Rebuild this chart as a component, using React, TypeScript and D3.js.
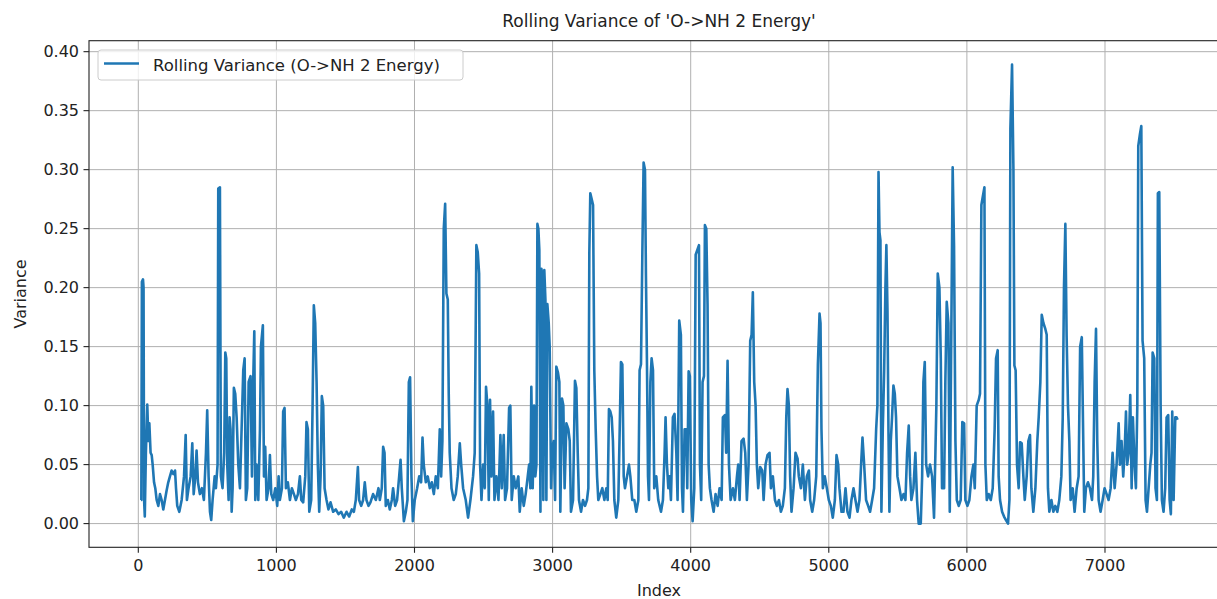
import React from 'react';
import * as d3 from 'd3';

const TITLE = "Rolling Variance of 'O->NH 2 Energy'";
const X_LABEL = 'Index';
const Y_LABEL = 'Variance';
const LEGEND_LABEL = 'Rolling Variance (O->NH 2 Energy)';
const X_TICKS = [0, 1000, 2000, 3000, 4000, 5000, 6000, 7000];
const Y_TICKS = [0, 0.05, 0.1, 0.15, 0.2, 0.25, 0.3, 0.35, 0.4];

// [index, rolling variance]
const SAMPLES: [number, number][] = [
  [19,0.020],[22,0.020],[26,0.205],[34,0.207],[38,0.200],[42,0.020],[47,0.006],[55,0.060],[65,0.101],[73,0.070],[80,0.085],[89,0.060],[97,0.058],[104,0.050],[114,0.035],[123,0.030],[133,0.020],[145,0.015],[157,0.025],[169,0.020],[181,0.012],[193,0.020],[205,0.028],[217,0.035],[229,0.040],[241,0.045],[253,0.042],[266,0.045],[273,0.030],[282,0.015],[297,0.010],[314,0.020],[331,0.040],[343,0.075],[352,0.020],[364,0.030],[379,0.040],[391,0.068],[401,0.025],[413,0.040],[422,0.062],[432,0.035],[446,0.025],[461,0.030],[475,0.020],[490,0.060],[499,0.096],[509,0.040],[519,0.010],[528,0.003],[538,0.020],[553,0.040],[562,0.030],[574,0.050],[579,0.284],[591,0.285],[598,0.040],[610,0.030],[622,0.060],[630,0.145],[637,0.140],[644,0.050],[654,0.020],[661,0.090],[668,0.080],[676,0.010],[683,0.030],[692,0.115],[702,0.110],[712,0.090],[724,0.050],
  [736,0.030],[748,0.080],[760,0.130],[770,0.140],[779,0.020],[789,0.030],[799,0.120],[813,0.125],[823,0.040],[832,0.120],[840,0.163],[847,0.020],[856,0.050],[869,0.020],[881,0.080],[888,0.150],[902,0.168],[910,0.040],[919,0.065],[929,0.020],[943,0.030],[953,0.058],[963,0.025],[977,0.020],[992,0.030],[1006,0.015],[1016,0.040],[1025,0.020],[1040,0.030],[1049,0.095],[1059,0.098],[1069,0.030],[1083,0.035],[1098,0.020],[1112,0.030],[1127,0.025],[1141,0.020],[1156,0.025],[1170,0.040],[1180,0.020],[1194,0.018],[1209,0.040],[1218,0.086],[1228,0.080],[1238,0.010],[1252,0.020],[1262,0.100],[1271,0.185],[1281,0.170],[1291,0.120],[1300,0.050],[1310,0.010],[1320,0.040],[1329,0.108],[1339,0.100],[1349,0.030],[1363,0.020],[1377,0.012],[1392,0.018],[1411,0.010],[1430,0.012],[1450,0.008],[1469,0.010],[1488,0.005],[1508,0.010],[1527,0.006],[1546,0.012],[1561,0.010],[1575,0.020],[1590,0.048],[1599,0.020],[1614,0.015],[1628,0.020],[1640,0.035],[1652,0.020],[1667,0.015],[1681,0.018],[1700,0.025],[1720,0.020],[1739,0.030],
  [1749,0.020],[1763,0.030],[1773,0.065],[1783,0.060],[1792,0.015],[1807,0.020],[1821,0.012],[1836,0.020],[1845,0.030],[1860,0.015],[1874,0.020],[1889,0.040],[1899,0.054],[1908,0.030],[1923,0.002],[1937,0.010],[1949,0.020],[1959,0.120],[1968,0.124],[1978,0.040],[1988,0.002],[2002,0.020],[2019,0.030],[2034,0.040],[2048,0.035],[2058,0.073],[2067,0.050],[2082,0.035],[2096,0.040],[2111,0.030],[2125,0.035],[2140,0.025],[2154,0.040],[2169,0.030],[2183,0.080],[2193,0.040],[2202,0.070],[2212,0.250],[2222,0.271],[2231,0.195],[2241,0.190],[2248,0.110],[2255,0.060],[2268,0.030],[2284,0.020],[2299,0.025],[2313,0.040],[2328,0.068],[2338,0.050],[2352,0.030],[2371,0.020],[2388,0.005],[2405,0.020],[2424,0.040],[2436,0.060],[2448,0.236],[2458,0.230],[2468,0.212],[2475,0.050],[2485,0.020],[2497,0.050],[2509,0.030],[2518,0.116],[2528,0.100],[2538,0.020],[2547,0.105],[2557,0.040],[2569,0.095],[2579,0.020],[2593,0.040],[2608,0.020],[2622,0.075],[2632,0.030],[2646,0.075],[2656,0.020],[2670,0.030],[2685,0.098],[2694,0.100],[2704,0.020],[2719,0.040],[2733,0.030],[2752,0.040],
  [2762,0.010],[2776,0.030],[2791,0.015],[2805,0.025],[2820,0.040],[2830,0.050],[2839,0.030],[2846,0.116],[2856,0.030],[2866,0.100],[2875,0.040],[2883,0.050],[2890,0.254],[2897,0.250],[2904,0.232],[2912,0.010],[2919,0.216],[2926,0.210],[2933,0.020],[2940,0.215],[2948,0.190],[2955,0.020],[2962,0.186],[2972,0.170],[2979,0.150],[2989,0.030],[2998,0.065],[3008,0.070],[3018,0.020],[3027,0.133],[3039,0.128],[3049,0.120],[3056,0.010],[3068,0.106],[3078,0.100],[3087,0.030],[3100,0.085],[3114,0.080],[3124,0.070],[3133,0.010],[3148,0.020],[3162,0.121],[3172,0.115],[3182,0.060],[3191,0.020],[3206,0.010],[3220,0.020],[3235,0.015],[3249,0.020],[3259,0.030],[3266,0.230],[3273,0.280],[3283,0.275],[3293,0.270],[3302,0.130],[3312,0.080],[3322,0.040],[3331,0.020],[3346,0.025],[3360,0.030],[3375,0.020],[3389,0.030],[3399,0.020],[3408,0.097],[3418,0.095],[3428,0.090],[3437,0.070],[3447,0.020],[3461,0.005],[3476,0.020],[3486,0.080],[3495,0.137],[3505,0.135],[3515,0.040],[3524,0.030],[3539,0.040],[3553,0.050],[3563,0.040],[3577,0.020],[3592,0.020],[3606,0.010],[3621,0.020],[3630,0.130],[3640,0.135],[3650,0.230],[3659,0.306],[3669,0.300],[3676,0.210],[3683,0.140],[3691,0.040],[3698,0.020],[3708,0.120],[3717,0.140],[3727,0.130],[3736,0.030],[3751,0.040],[3765,0.020],
  [3785,0.010],[3799,0.020],[3811,0.060],[3818,0.090],[3828,0.050],[3838,0.030],[3847,0.040],[3857,0.020],[3871,0.090],[3883,0.093],[3896,0.060],[3905,0.020],[3917,0.172],[3929,0.160],[3937,0.030],[3944,0.010],[3956,0.080],[3968,0.080],[3975,0.030],[3985,0.129],[3994,0.125],[4004,0.020],[4014,0.002],[4026,0.030],[4036,0.228],[4048,0.232],[4060,0.236],[4067,0.050],[4076,0.020],[4086,0.120],[4096,0.125],[4103,0.253],[4113,0.250],[4122,0.186],[4130,0.050],[4139,0.030],[4151,0.020],[4166,0.010],[4180,0.025],[4195,0.015],[4209,0.030],[4224,0.020],[4233,0.090],[4248,0.092],[4257,0.060],[4267,0.138],[4277,0.050],[4289,0.020],[4306,0.030],[4320,0.020],[4335,0.040],[4344,0.050],[4354,0.020],[4368,0.070],[4383,0.072],[4395,0.060],[4407,0.020],[4419,0.050],[4431,0.155],[4441,0.160],[4450,0.196],[4460,0.120],[4470,0.100],[4479,0.050],[4489,0.030],[4503,0.048],[4518,0.045],[4528,0.020],[4542,0.050],[4556,0.058],[4571,0.060],[4581,0.030],[4595,0.040],[4610,0.020],[4624,0.015],[4639,0.020],[4653,0.010],[4667,0.015],[4682,0.030],[4692,0.090],[4701,0.114],[4711,0.100],[4720,0.040],[4730,0.010],[4745,0.030],[4759,0.060],[4774,0.055],
  [4783,0.040],[4798,0.030],[4812,0.050],[4827,0.020],[4841,0.040],[4856,0.045],[4865,0.020],[4880,0.010],[4894,0.020],[4909,0.040],[4921,0.135],[4933,0.178],[4940,0.170],[4947,0.080],[4957,0.030],[4971,0.040],[4986,0.030],[5000,0.020],[5015,0.015],[5029,0.005],[5044,0.020],[5056,0.058],[5068,0.050],[5077,0.030],[5092,0.010],[5106,0.010],[5121,0.030],[5135,0.010],[5150,0.005],[5164,0.020],[5179,0.030],[5193,0.020],[5208,0.010],[5222,0.020],[5234,0.050],[5244,0.073],[5256,0.050],[5270,0.020],[5285,0.015],[5299,0.010],[5314,0.020],[5328,0.030],[5343,0.080],[5352,0.100],[5360,0.298],[5367,0.247],[5374,0.240],[5381,0.010],[5391,0.080],[5401,0.130],[5410,0.200],[5417,0.236],[5425,0.180],[5432,0.080],[5439,0.010],[5449,0.070],[5458,0.090],[5468,0.117],[5478,0.110],[5487,0.090],[5497,0.040],[5512,0.030],[5526,0.020],[5541,0.025],[5555,0.020],[5567,0.060],[5579,0.083],[5589,0.040],[5598,0.020],[5613,0.030],[5627,0.060],[5639,0.020],[5651,0.000],[5666,0.000],[5676,0.040],[5685,0.120],[5695,0.137],[5705,0.050],[5719,0.040],[5733,0.050],[5748,0.040],[5762,0.005],[5772,0.060],[5779,0.100],[5789,0.212],
  [5801,0.200],[5811,0.140],[5820,0.030],[5835,0.030],[5844,0.120],[5854,0.188],[5866,0.170],[5876,0.010],[5885,0.130],[5897,0.302],[5907,0.235],[5917,0.070],[5927,0.020],[5941,0.015],[5955,0.020],[5967,0.086],[5980,0.085],[5989,0.020],[6004,0.015],[6018,0.020],[6033,0.040],[6047,0.050],[6057,0.030],[6071,0.100],[6086,0.105],[6095,0.110],[6105,0.270],[6115,0.277],[6127,0.285],[6134,0.050],[6144,0.020],[6158,0.025],[6173,0.020],[6187,0.030],[6201,0.080],[6211,0.140],[6223,0.147],[6230,0.040],[6240,0.020],[6255,0.010],[6269,0.006],[6283,0.003],[6298,0.000],[6308,0.020],[6315,0.335],[6327,0.389],[6337,0.300],[6344,0.134],[6353,0.130],[6363,0.050],[6375,0.030],[6385,0.069],[6397,0.068],[6409,0.040],[6419,0.020],[6433,0.040],[6445,0.070],[6457,0.075],[6467,0.030],[6481,0.010],[6496,0.030],[6510,0.070],[6520,0.090],[6532,0.120],[6542,0.177],[6554,0.170],[6568,0.165],[6578,0.160],[6587,0.030],[6597,0.010],[6612,0.020],[6626,0.010],[6640,0.015],[6655,0.010],[6669,0.020],[6684,0.040],[6694,0.090],[6703,0.200],[6713,0.254],[6722,0.160],[6732,0.100],[6742,0.070],[6751,0.020],[6766,0.030],[6780,0.010],[6795,0.030],[6809,0.040],
  [6820,0.150],[6832,0.158],[6850,0.010],[6862,0.030],[6877,0.035],[6891,0.030],[6906,0.020],[6915,0.040],[6925,0.120],[6935,0.165],[6944,0.070],[6954,0.020],[6968,0.010],[6983,0.020],[6997,0.030],[7012,0.025],[7026,0.020],[7041,0.030],[7055,0.060],[7070,0.030],[7084,0.050],[7099,0.085],[7108,0.050],[7120,0.070],[7132,0.040],[7142,0.060],[7152,0.095],[7161,0.050],[7171,0.060],[7183,0.109],[7193,0.030],[7202,0.090],[7214,0.050],[7224,0.030],[7234,0.100],[7241,0.320],[7253,0.330],[7263,0.337],[7272,0.155],[7284,0.140],[7294,0.020],[7304,0.010],[7316,0.030],[7328,0.050],[7337,0.060],[7345,0.145],[7357,0.140],[7366,0.030],[7376,0.020],[7383,0.280],[7393,0.281],[7403,0.100],[7412,0.020],[7424,0.010],[7436,0.030],[7446,0.090],[7458,0.092],[7468,0.020],[7477,0.008],[7487,0.095],[7497,0.020],[7509,0.090],[7518,0.090],[7526,0.088],
];

const FONT = "'DejaVu Sans', sans-serif";

export default function App() {
  const W = 1217, H = 599;
  const left = 89, right = 1229, top = 40.7, bottom = 547.3;
  const x = d3.scaleLinear().domain([-357, 7898]).range([left, right]);
  const y = d3.scaleLinear().domain([-0.0201, 0.4093]).range([bottom, top]);
  const line = d3.line<[number, number]>().x(d => x(d[0])).y(d => y(d[1]));
  const fmt = d3.format('.2f');
  const cx = (left + right) / 2;
  const cy = (top + bottom) / 2;

  return (
    <svg width={W} height={H} style={{ position: 'absolute', left: 0, top: 0, background: '#fff' }}
      fontFamily={FONT}>
      <rect x={0} y={0} width={W} height={H} fill="#fff" />
      <defs>
        <clipPath id="plot"><rect x={left} y={top} width={right - left} height={bottom - top} /></clipPath>
      </defs>
      <g stroke="#b0b0b0" strokeWidth={1}>
        {X_TICKS.map(t => <line key={'gx' + t} x1={x(t)} x2={x(t)} y1={top} y2={bottom} />)}
        {Y_TICKS.map(t => <line key={'gy' + t} x1={left} x2={right} y1={y(t)} y2={y(t)} />)}
      </g>
      <path d={line(SAMPLES) || ''} fill="none" stroke="#1f77b4" strokeWidth={2.6}
        strokeLinejoin="round" clipPath="url(#plot)" />
      <rect x={left} y={top} width={right - left} height={bottom - top} fill="none" stroke="#222" strokeWidth={1.1} />
      <g>
        {X_TICKS.map(t => (
          <g key={'xt' + t}>
            <line x1={x(t)} x2={x(t)} y1={bottom} y2={bottom + 5.5} stroke="#222" strokeWidth={1.1} />
            <text x={x(t)} y={bottom + 24} textAnchor="middle" fontSize={16} fill="#222">{t}</text>
          </g>
        ))}
      </g>
      <g>
        {Y_TICKS.map(t => (
          <g key={'yt' + t}>
            <line x1={left - 5.5} x2={left} y1={y(t)} y2={y(t)} stroke="#222" strokeWidth={1.1} />
            <text x={left - 10} y={y(t)} dy="0.36em" textAnchor="end" fontSize={16} fill="#222">{fmt(t)}</text>
          </g>
        ))}
      </g>
      <text x={cx} y={596} textAnchor="middle" fontSize={16} fill="#222">{X_LABEL}</text>
      <text transform={`translate(26,${cy}) rotate(-90)`} textAnchor="middle" fontSize={16} fill="#222">{Y_LABEL}</text>
      <text x={cx} y={27} textAnchor="middle" fontSize={17} fill="#222">{TITLE}</text>
      <g>
        <rect x={98} y={50} width={365} height={30} rx={3} fill="#fff" fillOpacity={0.8} stroke="#cccccc" strokeWidth={1} />
        <line x1={104} x2={139} y1={63.5} y2={63.5} stroke="#1f77b4" strokeWidth={2.6} />
        <text x={153} y={70.5} fontSize={16.5} fill="#222">{LEGEND_LABEL}</text>
      </g>
    </svg>
  );
}
